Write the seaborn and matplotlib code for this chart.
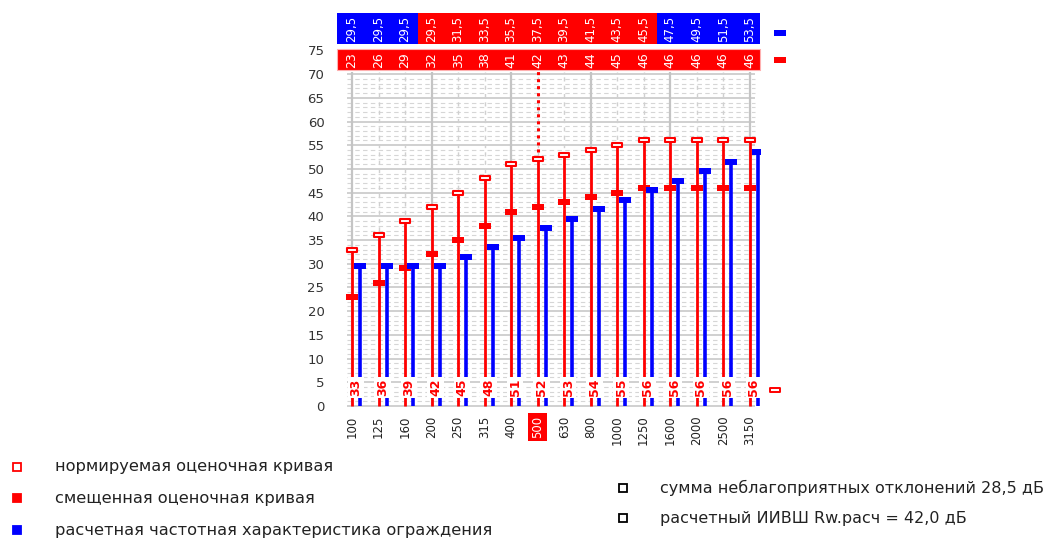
import numpy as np
import pandas as pd
import seaborn as sns
import matplotlib.pyplot as plt
from matplotlib.path import Path
from matplotlib.patches import Rectangle
from matplotlib.lines import Line2D

# frequency bands, Hz
freqs = ["100", "125", "160", "200", "250", "315", "400", "500",
         "630", "800", "1000", "1250", "1600", "2000", "2500", "3150"]
# normative evaluation curve
norm_curve = [33, 36, 39, 42, 45, 48, 51, 52, 53, 54, 55, 56, 56, 56, 56, 56]
# shifted evaluation curve
shifted_curve = [23, 26, 29, 32, 35, 38, 41, 42, 43, 44, 45, 46, 46, 46, 46, 46]
# calculated frequency response of the partition
calc_curve = [29.5, 29.5, 29.5, 29.5, 31.5, 33.5, 35.5, 37.5,
              39.5, 41.5, 43.5, 45.5, 47.5, 49.5, 51.5, 53.5]
rw_freq = "500"

legend_left = ["нормируемая оценочная кривая",
               "смещенная оценочная кривая",
               "расчетная частотная характеристика ограждения"]
legend_right = ["сумма неблагоприятных отклонений 28,5 дБ",
                "расчетный ИИВШ Rw.расч = 42,0 дБ"]

sns.set_style("white")
plt.rcParams["font.family"] = ["DejaVu Sans"]

RED = "#ff0000"
BLUE = "#0000ff"
GRID = "#c4c4c4"

df = pd.DataFrame({"freq": freqs, "norm": norm_curve,
                   "shifted": shifted_curve, "calc": calc_curve})
df["pos"] = np.arange(len(df))
df["pos_calc"] = df["pos"] + 0.3

fig = plt.figure(figsize=(10.46, 5.39), dpi=100)
ax = fig.add_axes([337 / 1046, 0.2416, 423 / 1046, 0.7343])
ax.set_xlim(-0.57, 15.39)
ax.set_ylim(-0.6, 82.9)
for s in ax.spines.values():
    s.set_visible(False)

# grid
gx0, gx1 = -0.2, 15.2
for v in range(0, 71):
    if v % 5 == 0:
        ax.hlines(v, gx0, gx1, color=GRID, lw=1.1, zorder=1)
    else:
        ax.hlines(v, gx0, gx1, color="#d6d6d6", lw=0.8,
                  linestyles=(0, (4, 3)), zorder=1)
for p in df["pos"]:
    if p % 3 == 0:
        ax.vlines(p, 0, 70.5, color=GRID, lw=1.6, zorder=1)
    else:
        ax.vlines(p, 0, 70.5, color="#d0d0d0", lw=1.0,
                  linestyles=(0, (3, 3)), zorder=1)

# stems
ax.vlines(df["pos"], 0, df["norm"], color=RED, lw=2, zorder=2)
ax.vlines(df["pos_calc"], 0, df["calc"], color=BLUE, lw=2.6, zorder=2)

# Rw marker line at 500 Hz
i_rw = freqs.index(rw_freq)
ax.vlines(i_rw, norm_curve[i_rw], 70.6, color=RED, lw=2.2,
          linestyles=(0, (1, 1.3)), zorder=2)

rect = Path([(-1, -0.42), (1, -0.42), (1, 0.42), (-1, 0.42), (-1, -0.42)],
            [Path.MOVETO, Path.LINETO, Path.LINETO, Path.LINETO, Path.CLOSEPOLY])

sns.scatterplot(data=df, x="pos", y="norm", marker=rect, s=58,
                color="white", edgecolor=RED, linewidth=1.5, ax=ax, zorder=5)
sns.scatterplot(data=df, x="pos", y="shifted", marker=rect, s=80,
                color=RED, edgecolor=RED, linewidth=0, ax=ax, zorder=4)
sns.scatterplot(data=df, x="pos_calc", y="calc", marker=rect, s=80,
                color=BLUE, edgecolor=BLUE, linewidth=0, ax=ax, zorder=4)

# normative values along the bottom
for p, v in zip(df["pos"], df["norm"]):
    ax.text(p + 0.15, 3.9, str(v), rotation=90, color=RED, fontsize=9,
            fontweight="bold", ha="center", va="center", zorder=6,
            bbox=dict(facecolor="white", edgecolor="none", pad=1.2))

# header rows
ax.add_patch(Rectangle((-0.57, 70.8), 15.96, 4.5, facecolor=RED,
                       edgecolor="#ffb0b0", lw=0.8, clip_on=False, zorder=3))
for p, v in zip(df["pos"], df["shifted"]):
    ax.text(p, 73.05, str(v), rotation=90, color="white", fontsize=9,
            ha="center", va="center", zorder=6)
for p, c, s in zip(df["pos"], df["calc"], df["shifted"]):
    x0 = -0.57 if p == 0 else p - 0.5
    x1 = 15.39 if p == len(df) - 1 else p + 0.5
    col = BLUE if c >= s else RED
    ax.add_patch(Rectangle((x0, 76.3), x1 - x0, 6.6, facecolor=col,
                           edgecolor="none", clip_on=False, zorder=3))
    ax.text(p, 79.6, f"{c:.1f}".replace(".", ","), rotation=90, color="white",
            fontsize=8.5, ha="center", va="center", zorder=6)

# side markers
ax.scatter([16.15], [78.6], marker=rect, s=80, color=BLUE, lw=0, clip_on=False)
ax.scatter([16.15], [73.0], marker=rect, s=80, color=RED, lw=0, clip_on=False)
ax.scatter([15.95], [3.4], marker=rect, s=55, facecolor="white",
           edgecolor=RED, lw=1.4, clip_on=False)

# axes ticks
ax.set_yticks(range(0, 80, 5))
ax.set_yticklabels([str(v) for v in range(0, 80, 5)], fontsize=9.5, color="#333333")
ax.set_xticks(df["pos"])
ax.set_xticklabels(freqs, rotation=90, fontsize=8.5, color="#222222")
ax.tick_params(axis="both", length=0)
ax.tick_params(axis="y", pad=9)
ax.tick_params(axis="x", pad=5)
ax.set_xlabel("")
ax.set_ylabel("")
lab = ax.get_xticklabels()[i_rw]
lab.set_color("white")
lab.set_bbox(dict(facecolor=RED, edgecolor="none", pad=2))

# legend
left_marks = [("white", RED), (RED, RED), (BLUE, BLUE)]
for (fc, ec), txt, yy in zip(left_marks, legend_left, [467, 498, 530]):
    fy = 1 - yy / 539
    fig.add_artist(Line2D([17 / 1046], [fy], marker="s", markersize=6,
                          markerfacecolor=fc, markeredgecolor=ec,
                          markeredgewidth=1.3, transform=fig.transFigure))
    fig.text(55 / 1046, fy, txt, fontsize=11.7, color="#222222", va="center")
for txt, yy in zip(legend_right, [488, 518]):
    fy = 1 - yy / 539
    fig.add_artist(Line2D([623 / 1046], [fy], marker="s", markersize=6,
                          markerfacecolor="white", markeredgecolor="black",
                          markeredgewidth=1.3, transform=fig.transFigure))
    fig.text(660 / 1046, fy, txt, fontsize=11.5, color="#222222", va="center")

fig.savefig("out.png", dpi=100)
